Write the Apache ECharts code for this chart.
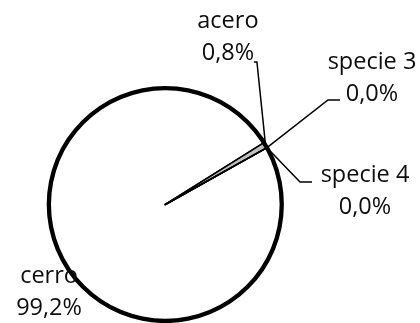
<!DOCTYPE html>
<html>
<head>
<meta charset="utf-8">
<script src="https://cdn.jsdelivr.net/npm/echarts@6/dist/echarts.min.js"></script>
<style>
  html, body { margin: 0; padding: 0; background: #ffffff; }
  #chart { width: 420px; height: 323px; }
</style>
</head>
<body>
<div id="chart"></div>
<script>
// Species shares (percent of total)
const species = ['cerro', 'acero', 'specie 3', 'specie 4'];
const shares = [99.2, 0.8, 0.0, 0.0];
const sliceColors = ['#ffffff', '#bfbfbf', '#ffffff', '#ffffff'];

// Pie geometry
const CENTER = [165.3, 204.5];
const RADIUS = 116.5;
const START_ANGLE = 29.2;

// Label offsets (text centre and leader-line bends) from each slice's rim point
const labelPlacement = {
  'cerro':    { text: [-16, 28.5],    line: null },
  'acero':    { text: [-37.6, -107.5], line: [[-8.6, -83.2], [-11.6, -83.2]] },
  'specie 3': { text: [105, -69.5],   line: [[61, -47.7], [73, -47.7]] },
  'specie 4': { text: [98, 44],       line: [[33, 34.3], [45, 34.3]] }
};

const total = shares.reduce((a, b) => a + b, 0);

// Point on the rim at the middle angle of slice i (pie runs clockwise)
function rimPoint(i) {
  let before = 0;
  for (let k = 0; k < i; k++) before += shares[k];
  const mid = START_ANGLE - (before + shares[i] / 2) / total * 360;
  const rad = mid * Math.PI / 180;
  return [CENTER[0] + RADIUS * Math.cos(rad), CENTER[1] - RADIUS * Math.sin(rad)];
}

function fmtPercent(p) {
  return p.toFixed(1).replace('.', ',') + '%';
}

const pieData = species.map((name, i) => ({
  name: name,
  value: shares[i],
  itemStyle: { color: sliceColors[i] },
  labelLine: { show: labelPlacement[name].line !== null }
}));

const chart = echarts.init(document.getElementById('chart'), null, { renderer: 'canvas' });

chart.setOption({
  backgroundColor: '#ffffff',
  animation: false,
  series: [
    {
      type: 'pie',
      center: CENTER,
      radius: RADIUS,
      startAngle: START_ANGLE,
      clockwise: true,
      avoidLabelOverlap: false,
      percentPrecision: 1,
      minShowLabelAngle: 0,
      silent: true,
      data: pieData,
      itemStyle: { borderColor: '#000000', borderWidth: 1.6 },
      label: {
        show: true,
        position: 'outside',
        color: '#0d0d0d',
        fontFamily: '"Open Sans"',
        fontSize: 23.5,
        lineHeight: 32,
        align: 'center',
        formatter: (p) => p.name + '\n' + fmtPercent(p.percent)
      },
      labelLine: {
        show: true,
        smooth: false,
        lineStyle: { color: '#000000', width: 1.5 }
      },
      labelLayout: (params) => {
        const name = species[params.dataIndex];
        const place = labelPlacement[name];
        const a = rimPoint(params.dataIndex);
        const out = {
          x: a[0] + place.text[0],
          y: a[1] + place.text[1],
          align: 'center',
          verticalAlign: 'middle'
        };
        if (place.line) {
          out.labelLinePoints = [a].concat(place.line.map(d => [a[0] + d[0], a[1] + d[1]]));
        }
        return out;
      }
    },
    {
      // heavy outline around the whole pie
      type: 'pie',
      center: CENTER,
      radius: [RADIUS - 2.2, RADIUS + 2.1],
      silent: true,
      label: { show: false },
      labelLine: { show: false },
      itemStyle: { color: '#000000', borderWidth: 0 },
      data: [{ value: 1, name: '' }]
    }
  ]
});
</script>
</body>
</html>
